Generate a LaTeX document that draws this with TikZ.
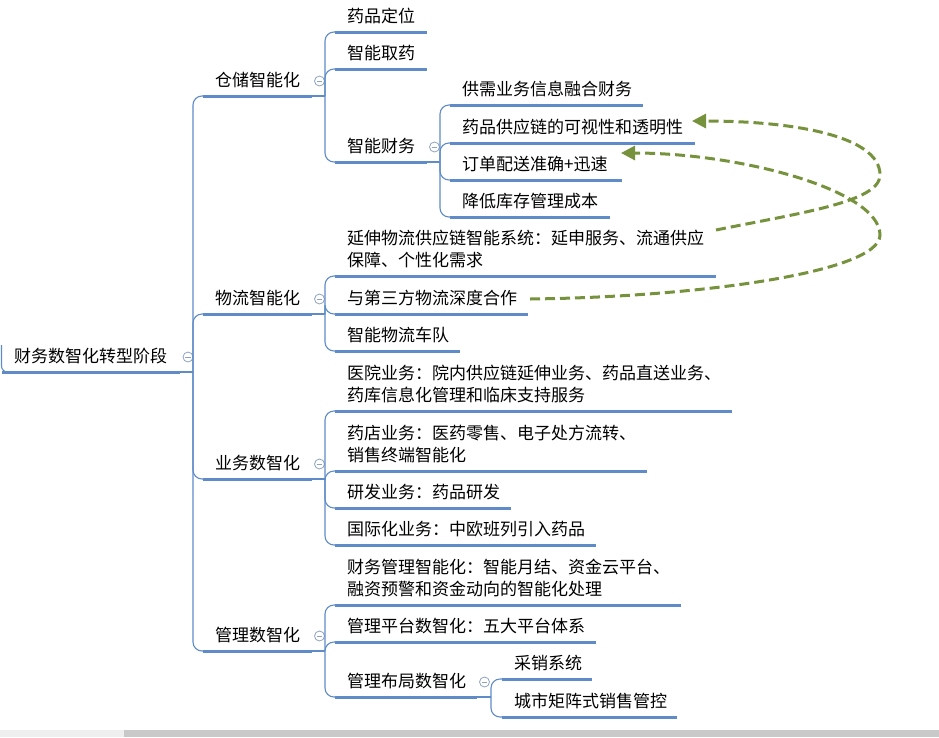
\documentclass[tikz,border=0pt]{standalone}
\usepackage{fontspec}
\setmainfont{Noto Sans CJK SC}
\usetikzlibrary{arrows.meta}
\definecolor{mmblue}{RGB}{95,140,200}
\definecolor{mmgreen}{RGB}{118,146,60}
\definecolor{mmcirc}{RGB}{143,163,192}
\definecolor{barlight}{RGB}{239,239,239}
\definecolor{bardark}{RGB}{201,201,201}
\tikzset{
  under/.style={mmblue, line width=3pt},
  branch/.style={mmblue, line width=1.1pt},
  lbl/.style={inner sep=0pt, anchor=base west, font=\fontsize{17}{22.5}\selectfont},
  fold/.style={circle, draw=mmcirc, fill=white, minimum size=10pt, inner sep=0pt, line width=0.8pt,
    path picture={\draw[mmcirc, line width=0.8pt] ([xshift=-2.6pt]path picture bounding box.center) -- ([xshift=2.6pt]path picture bounding box.center);}},
  rel/.style={mmgreen, line width=3pt, dash pattern=on 10pt off 5pt, -{Triangle[length=14pt,width=14pt]}}
}
% name, x0, x1, y, text
\newcommand\mmtopic[5]{%
  \coordinate (#1-l) at (#2,#4);
  \coordinate (#1-r) at (#3,#4);
  \draw[under] (#1-l) -- (#1-r);
  \node[lbl] (#1) at (#2+12,#4-9.5) {#5};
}
% name, junction x, y, fold x
\newcommand\mmparent[4]{%
  \coordinate (#1-j) at (#2,#3);
  \draw[branch] (#1-r) -- (#1-j);
  \node[fold] (#1-f) at (#4,#3-15) {};
}
\newcommand\mmlink[2]{\draw[branch, rounded corners=9pt] (#1-j) |- (#2-l);}
\newcommand\mmtwo[2]{\begin{tabular}[b]{@{}l@{}}#1\\#2\end{tabular}}
\begin{document}
\begin{tikzpicture}[x=1pt,y=-1pt]
\useasboundingbox (0,0) rectangle (939,737);
\fill[white] (0,0) rectangle (939,737);
\fill[barlight] (0,730) rectangle (124,737);
\fill[bardark] (124,730) rectangle (939,737);

% topics
\mmtopic{R}{2}{180}{372}{财务数智化转型阶段}
\mmtopic{A}{203}{312}{96}{仓储智能化}
\mmtopic{B}{203}{312}{314}{物流智能化}
\mmtopic{C}{203}{312}{479}{业务数智化}
\mmtopic{D}{203}{312}{651}{管理数智化}

\mmtopic{A1}{335}{427}{32}{药品定位}
\mmtopic{A2}{335}{427}{69}{智能取药}
\mmtopic{A3}{335}{427}{162}{智能财务}

\mmtopic{A31}{450}{643}{105}{供需业务信息融合财务}
\mmtopic{A32}{450}{695}{143}{药品供应链的可视性和透明性}
\mmtopic{A33}{450}{622}{180}{订单配送准确+迅速}
\mmtopic{A34}{450}{610}{217}{降低库存管理成本}

\mmtopic{B1}{335}{716}{276}{\mmtwo{延伸物流供应链智能系统：延申服务、流通供应}{保障、个性化需求}}
\mmtopic{B2}{335}{528}{314}{与第三方物流深度合作}
\mmtopic{B3}{335}{460}{351}{智能物流车队}

\mmtopic{C1}{335}{732}{411}{\mmtwo{医院业务：院内供应链延伸业务、药品直送业务、}{药库信息化管理和临床支持服务}}
\mmtopic{C2}{335}{647}{471}{\mmtwo{药店业务：医药零售、电子处方流转、}{销售终端智能化}}
\mmtopic{C3}{335}{511}{508}{研发业务：药品研发}
\mmtopic{C4}{335}{596}{545}{国际化业务：中欧班列引入药品}

\mmtopic{D1}{335}{681}{605}{\mmtwo{财务管理智能化：智能月结、资金云平台、}{融资预警和资金动向的智能化处理}}
\mmtopic{D2}{335}{596}{642}{管理平台数智化：五大平台体系}
\mmtopic{D3}{335}{477}{697}{管理布局数智化}

\mmtopic{D31}{502}{592}{679}{采销系统}
\mmtopic{D32}{502}{677}{717}{城市矩阵式销售管控}

% root stub
\coordinate (R-stub) at (1.5,345);
\draw[branch, rounded corners=6pt] (R-stub) |- (R-l);

% parents with junctions and fold markers
\mmparent{R}{193}{372}{188}
\mmparent{A}{325}{96}{319.5}
\mmparent{B}{325}{314}{319.5}
\mmparent{C}{325}{479}{319.5}
\mmparent{D}{325}{651}{319.5}
\mmparent{A3}{440}{162}{434.5}
\mmparent{D3}{491}{697}{484.5}

% links
\mmlink{R}{A}\mmlink{R}{B}\mmlink{R}{C}\mmlink{R}{D}
\mmlink{A}{A1}\mmlink{A}{A2}\mmlink{A}{A3}
\mmlink{A3}{A31}\mmlink{A3}{A32}\mmlink{A3}{A33}\mmlink{A3}{A34}
\mmlink{B}{B1}\mmlink{B}{B2}\mmlink{B}{B3}
\mmlink{C}{C1}\mmlink{C}{C2}\mmlink{C}{C3}\mmlink{C}{C4}
\mmlink{D}{D1}\mmlink{D}{D2}\mmlink{D}{D3}
\mmlink{D3}{D31}\mmlink{D3}{D32}

% relationship arrows
\coordinate (B1-out) at (716,230);
\coordinate (A32-in) at (692,121);
\coordinate (B2-out) at (530,299);
\coordinate (A33-in) at (621,153);
\draw[rel] (B1-out) .. controls (800,213) and (880,202) .. (880,175)
  .. controls (880,135) and (790,121) .. (A32-in);
\draw[rel] (B2-out) .. controls (700,297) and (880,272) .. (880,235)
  .. controls (880,190) and (740,153) .. (A33-in);
\end{tikzpicture}
\end{document}
